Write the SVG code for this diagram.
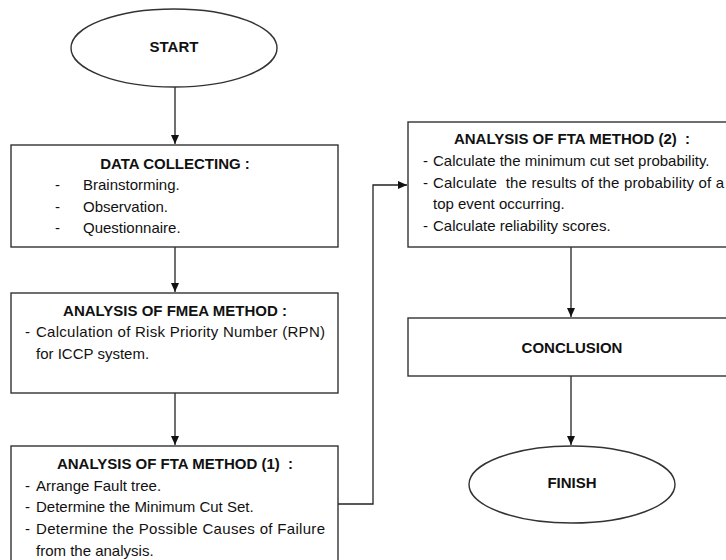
<svg xmlns="http://www.w3.org/2000/svg" width="726" height="560" viewBox="0 0 726 560">
<defs>
<marker id="arr" markerUnits="userSpaceOnUse" markerWidth="10" markerHeight="10" refX="9" refY="5" orient="auto">
<path d="M0,1 L9,5 L0,9 Z" fill="#111"/>
</marker>
<style>
.box{fill:#fff;stroke:#333;stroke-width:1.4}
.t{font-family:"Liberation Sans",Arial,sans-serif;font-size:15px;fill:#111}
.b{font-weight:bold;text-anchor:middle}
.c{fill:none;stroke:#222;stroke-width:1.3}
</style>
</defs>
<rect width="726" height="560" fill="#fff"/>
<g id="connectors">
<path class="c" d="M175,87 V144" marker-end="url(#arr)"/>
<path class="c" d="M175,247 V292" marker-end="url(#arr)"/>
<path class="c" d="M175,393 V445" marker-end="url(#arr)"/>
<path class="c" d="M338,504 H373 V185 H407" marker-end="url(#arr)"/>
<path class="c" d="M571,247 V317" marker-end="url(#arr)"/>
<path class="c" d="M571,376 V445" marker-end="url(#arr)"/>
</g>
<g id="start">
<ellipse class="box" cx="174" cy="48" rx="103" ry="39"/>
<text class="t b" x="174" y="52">START</text>
</g>
<g id="data">
<rect class="box" x="11" y="145" width="327" height="102"/>
<text class="t b" x="175" y="169">DATA COLLECTING :</text>
<text class="t" x="55" y="190">-</text><text class="t" x="83" y="190">Brainstorming.</text>
<text class="t" x="55" y="211.5">-</text><text class="t" x="83" y="211.5">Observation.</text>
<text class="t" x="55" y="233">-</text><text class="t" x="83" y="233">Questionnaire.</text>
</g>
<g id="fmea">
<rect class="box" x="11" y="293" width="327" height="100"/>
<text class="t b" x="175" y="315.5">ANALYSIS OF FMEA METHOD :</text>
<text class="t" x="25" y="337">-</text><text class="t" x="36" y="337" textLength="289" lengthAdjust="spacing">Calculation of Risk Priority Number (RPN)</text>
<text class="t" x="36" y="359">for ICCP system.</text>
</g>
<g id="fta1">
<rect class="box" x="11" y="446" width="327" height="130"/>
<text class="t b" x="175" y="469" xml:space="preserve">ANALYSIS OF FTA METHOD (1)  :</text>
<text class="t" x="25" y="490.5">-</text><text class="t" x="36" y="490.5">Arrange Fault tree.</text>
<text class="t" x="25" y="512">-</text><text class="t" x="36" y="512">Determine the Minimum Cut Set.</text>
<text class="t" x="25" y="534">-</text><text class="t" x="36" y="534" textLength="289" lengthAdjust="spacing">Determine the Possible Causes of Failure</text>
<text class="t" x="36" y="556">from the analysis.</text>
</g>
<g id="fta2">
<rect class="box" x="408" y="122" width="330" height="125"/>
<text class="t b" x="572" y="144" xml:space="preserve">ANALYSIS OF FTA METHOD (2)  :</text>
<text class="t" x="423" y="166">-</text><text class="t" x="433" y="166">Calculate the minimum cut set probability.</text>
<text class="t" x="423" y="187.5">-</text><text class="t" x="433" y="187.5" xml:space="preserve" textLength="291" lengthAdjust="spacing">Calculate  the results of the probability of a</text>
<text class="t" x="433" y="209">top event occurring.</text>
<text class="t" x="423" y="231">-</text><text class="t" x="433" y="231">Calculate reliability scores.</text>
</g>
<g id="conclusion">
<rect class="box" x="408" y="318" width="330" height="58"/>
<text class="t b" x="572" y="352.5">CONCLUSION</text>
</g>
<g id="finish">
<ellipse class="box" cx="572" cy="484.5" rx="103" ry="38.5"/>
<text class="t b" x="572" y="488">FINISH</text>
</g>
</svg>
